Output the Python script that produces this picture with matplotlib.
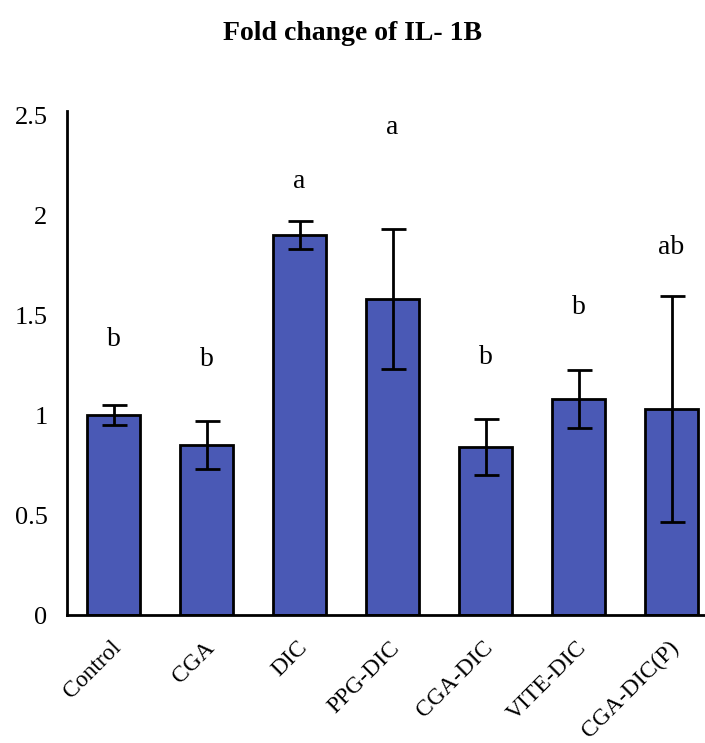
import matplotlib
matplotlib.use('Agg')
import matplotlib.pyplot as plt
import matplotlib.transforms as mtransforms
import numpy as np

# Data
groups = ['Control', 'CGA', 'DIC', 'PPG-DIC', 'CGA-DIC', 'VITE-DIC', 'CGA-DIC(P)']
fold_change = [1.00, 0.85, 1.90, 1.58, 0.84, 1.08, 1.03]
errors = [0.05, 0.12, 0.07, 0.35, 0.14, 0.145, 0.565]
letters = ['b', 'b', 'a', 'a', 'b', 'b', 'ab']
letter_y = [1.375, 1.275, 2.165, 2.44, 1.29, 1.54, 1.835]

fig = plt.figure(figsize=(7.05, 7.43), dpi=100)
ax = fig.add_axes([67 / 705, 128 / 743, 1 - 67 / 705, 504 / 743])

x = np.arange(len(groups))
ax.bar(x, fold_change, width=0.58, color='#4a59b5', edgecolor='black',
       linewidth=2, zorder=2)
ax.errorbar(x, fold_change, yerr=errors, fmt='none', ecolor='black',
            elinewidth=2, capsize=9, capthick=2, zorder=3)

for xi, lab, ly in zip(x, letters, letter_y):
    ax.text(xi, ly, lab, ha='center', va='center', fontsize=20,
            family='Liberation Serif')

ax.set_xlim(-0.5, 6.36)
ax.set_ylim(0, 2.52)
ax.set_yticks([0, 0.5, 1, 1.5, 2, 2.5])
ax.set_yticklabels(['0', '0.5', '1', '1.5', '2', '2.5'])
ax.set_xticks(x)
ax.set_xticklabels(groups, rotation=45, ha='right', rotation_mode='anchor')
ax.tick_params(axis='y', length=0, labelsize=19, pad=14)
ax.tick_params(axis='x', length=0, labelsize=17, pad=16)
for lbl in ax.get_yticklabels():
    lbl.set_family('Liberation Serif')
shift = mtransforms.ScaledTranslation(-0.03, 0, fig.dpi_scale_trans)
for lbl in ax.get_xticklabels():
    lbl.set_family('Liberation Serif')
    lbl.set_transform(lbl.get_transform() + shift)

for side in ['top', 'right']:
    ax.spines[side].set_visible(False)
ax.spines['left'].set_linewidth(2)
ax.spines['bottom'].set_linewidth(2)

fig.text(0.5, 0.955, 'Fold change of IL- 1B', ha='center', va='center',
         fontsize=20, fontweight='bold', family='Liberation Serif')

fig.savefig('out.png', dpi=100)
